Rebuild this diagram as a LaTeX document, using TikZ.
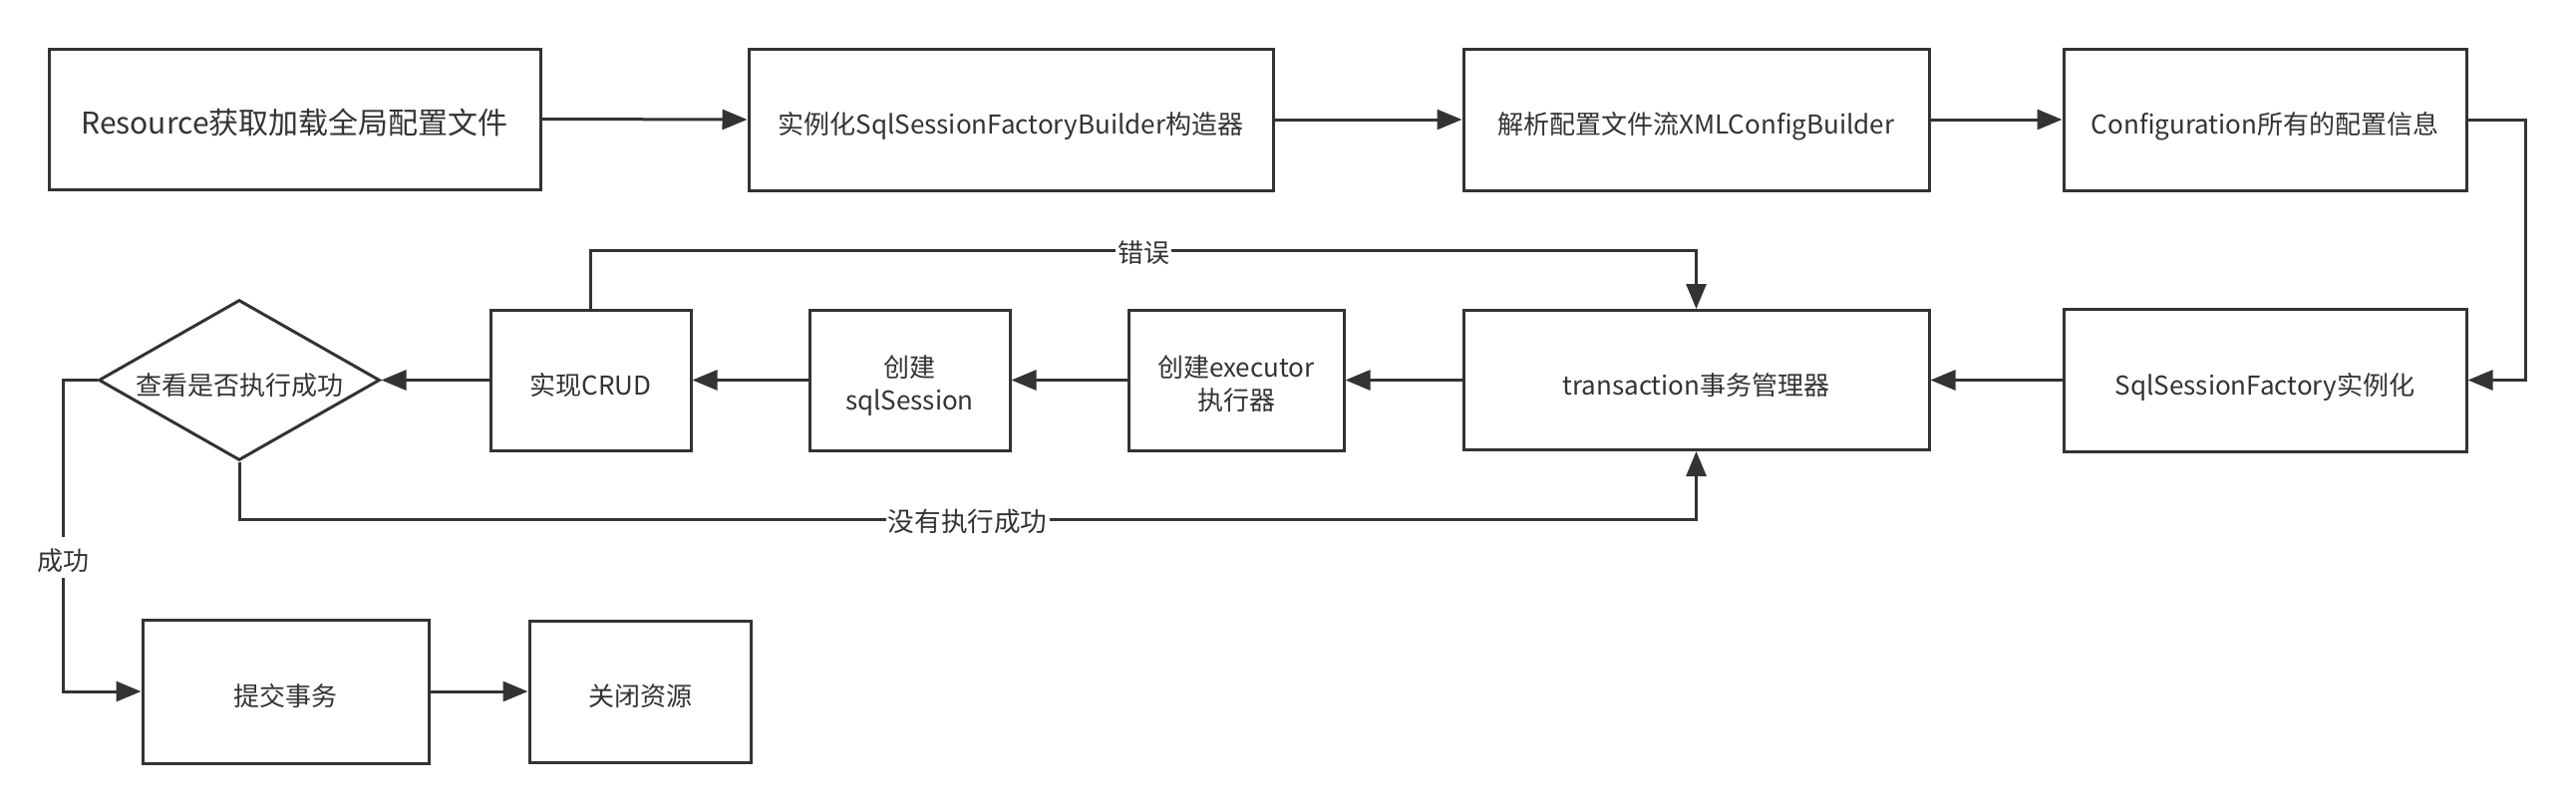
\documentclass[tikz,border=0pt]{standalone}
\usepackage{fontspec}
\setmainfont{Noto Sans CJK SC}
\usepackage{xcolor}
\usetikzlibrary{arrows.meta}
\usetikzlibrary{shapes.geometric}
\usetikzlibrary{positioning}
\definecolor{ink}{RGB}{51,51,51}

\begin{document}
\begin{tikzpicture}[x=0.5pt,y=-0.5pt,
	box/.style={draw=ink,line width=1.5pt,fill=white,text=ink,inner sep=0pt,align=center,text height=17.8pt,text depth=3pt,font=\fontsize{13}{16.5}\selectfont},
	twoline/.style={text height=33.3pt},
	link/.style={draw=ink,line width=1.5pt,-{Stealth[length=12.5pt,width=10pt,inset=0pt]}},
	lbl/.style={fill=white,text=ink,inner sep=1pt,text height=15.8pt,text depth=3pt,font=\fontsize{13}{16}\selectfont}]
	\useasboundingbox (0,0) rectangle (2584,814);
	
	% first row
	\node[box,minimum width=246.5pt,minimum height=70.5pt,font=\fontsize{15}{18}\selectfont] (res) at (295.5,119.5) {Resource获取加载全局配置文件};
	\node[box,minimum width=263pt,minimum height=71pt] (builder) at (1014,120) {实例化SqlSessionFactoryBuilder构造器};
	\node[box,minimum width=233.5pt,minimum height=71pt] (xmlcfg) at (1701.5,120) {解析配置文件流XMLConfigBuilder};
	\node[box,minimum width=202pt,minimum height=71pt] (config) at (2272,120) {Configuration所有的配置信息};
	
	% second row
	\node[box,minimum width=202pt,minimum height=71.5pt] (factory) at (2272,381.5) {SqlSessionFactory实例化};
	\node[box,minimum width=233.5pt,minimum height=70pt] (trans) at (1701.5,381.5) {transaction事务管理器};
	\node[box,twoline,minimum width=108pt,minimum height=70.5pt] (executor) at (1240,381.5) {创建executor\\执行器};
	\node[box,twoline,minimum width=100.5pt,minimum height=70.5pt] (session) at (912.5,381.5) {创建\\sqlSession};
	\node[box,minimum width=100.5pt,minimum height=70.5pt] (crud) at (592.5,381.5) {实现CRUD};
	\node[box,diamond,aspect=1.75,minimum width=141pt,minimum height=80.5pt] (check) at (240,381.5) {查看是否执行成功};
	
	% third row
	\node[box,minimum width=143.5pt,minimum height=72pt] (commit) at (286.5,694) {提交事务};
	\node[box,minimum width=111pt,minimum height=71pt] (close) at (642,694) {关闭资源};
	
	\coordinate (turn) at (2533,120);
	\coordinate (errL) at (592.5,251);
	\coordinate (errR) at (1701.5,251);
	\coordinate (failL) at (240,521);
	\coordinate (failR) at (1701.5,521);
	\coordinate (okT) at (63,381.5);
	\coordinate (okB) at (63,694);
	
	\draw[link] (res.east) -- (builder.west);
	\draw[link] (builder.east) -- (xmlcfg.west);
	\draw[link] (xmlcfg.east) -- (config.west);
	\draw[link] (config.east) -- (turn) |- (factory.east);
	\draw[link] (factory.west) -- (trans.east);
	\draw[link] (trans.west) -- (executor.east);
	\draw[link] (executor.west) -- (session.east);
	\draw[link] (session.west) -- (crud.east);
	\draw[link] (crud.west) -- (check.east);
	
	\draw[link] (crud.north) -- (errL) -- node[lbl] (err) {错误} (errR) -- (trans.north);
	\draw[link] (check.south) -- (failL) -- node[lbl,font=\fontsize{13.3}{16}\selectfont] (fail) {没有执行成功} (failR) -- (trans.south);
	\draw[link] (check.west) -- (okT) -- node[lbl,pos=0.57] (ok) {成功} (okB) -- (commit.west);
	\draw[link] (commit.east) -- (close.west);
	
\end{tikzpicture}
\end{document}
